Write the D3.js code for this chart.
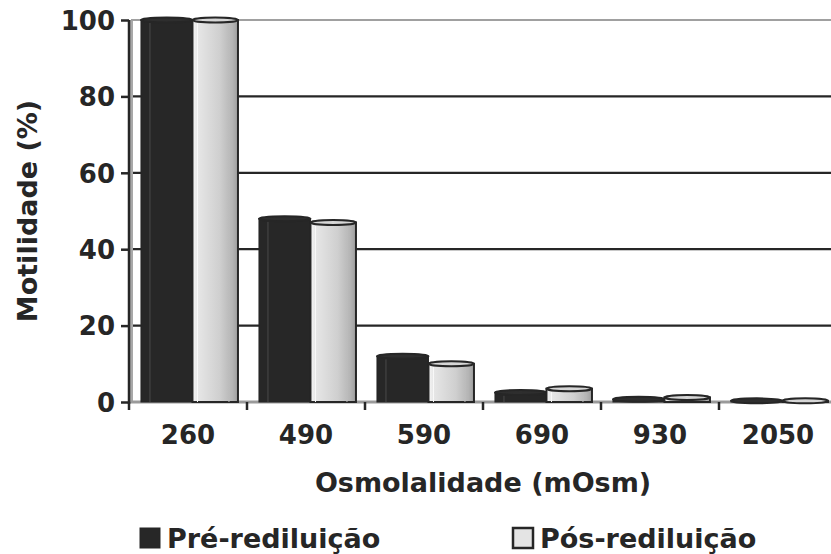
<!DOCTYPE html>
<html>
<head>
<meta charset="utf-8">
<script src="https://cdn.jsdelivr.net/npm/d3@7"></script>
<style>
  body { margin: 0; background: #fff; }
  text { font-family: "DejaVu Sans", Verdana, sans-serif; font-weight: bold; fill: #262626; }
</style>
</head>
<body>
<svg id="chart" width="831" height="554"></svg>
<script>
// Osmolality groups (mOsm) and sperm motility (%) before / after re-dilution
const categories = ["260", "490", "590", "690", "930", "2050"];
const preRediluicao = [100, 48, 12, 2.5, 0.7, 0.3];
const posRediluicao = [100, 47, 10, 3.5, 1.2, 0.3];
const yTicks = [0, 20, 40, 60, 80, 100];
const seriesNames = ["Pré-rediluição", "Pós-rediluição"];

const svg = d3.select("#chart");
const plotLeft = 129, plotTop = 20, plotBottom = 402, step = 118;
const plotRight = plotLeft + step * categories.length;

const x = d3.scaleBand().domain(categories).range([plotLeft, plotRight])
  .paddingInner(0.178).paddingOuter(0.089).align(0.57);
const xs = d3.scaleBand().domain([0, 1]).range([0, x.bandwidth()]);
const y = d3.scaleLinear().domain([0, 100]).range([plotBottom, plotTop]);

// gradient for the light cylinders
const defs = svg.append("defs");
const g1 = defs.append("linearGradient").attr("id", "lightCyl");
[["0%", "#f4f4f4"], ["12%", "#e6e6e6"], ["60%", "#cfcfcf"], ["88%", "#b4b4b4"], ["100%", "#9e9e9e"]]
  .forEach(([o, c]) => g1.append("stop").attr("offset", o).attr("stop-color", c));

// back wall edge and floor
svg.append("rect").attr("x", plotLeft + 1).attr("y", plotTop).attr("width", 3).attr("height", plotBottom - plotTop)
  .attr("fill", "#a8a8a8");
svg.append("line").attr("x1", plotLeft).attr("x2", 831).attr("y1", plotBottom).attr("y2", plotBottom)
  .attr("stroke", "#9a9a9a").attr("stroke-width", 3);

// gridlines
svg.append("g").selectAll("line").data(yTicks.filter(d => d > 0)).join("line")
  .attr("x1", d => d === 100 ? plotLeft + 2 : plotLeft + 4).attr("x2", 831)
  .attr("y1", d => y(d)).attr("y2", d => y(d))
  .attr("stroke", d => d === 100 ? "#a0a0a0" : "#262626")
  .attr("stroke-width", 2.2);

// y axis
const yAxis = d3.axisLeft(y).tickValues(yTicks).tickSize(8).tickPadding(6);
const gy = svg.append("g").attr("transform", `translate(${plotLeft},0)`).call(yAxis);
gy.select(".domain").attr("stroke", "#262626").attr("stroke-width", 2.5)
  .attr("d", `M0,${plotTop}V${plotBottom + 2}`);
gy.selectAll(".tick line").attr("stroke", "#262626").attr("stroke-width", 2.5);
gy.selectAll(".tick text").attr("font-size", 26).attr("dy", "0.36em");

// x axis: boundary ticks below the floor
const boundaries = d3.range(categories.length + 1).map(i => plotLeft + i * step);
svg.append("g").selectAll("line").data(boundaries).join("line")
  .attr("x1", d => d).attr("x2", d => d).attr("y1", plotBottom).attr("y2", plotBottom + 8)
  .attr("stroke", "#262626").attr("stroke-width", 2.5);
svg.append("g").selectAll("text").data(categories).join("text")
  .attr("x", (d, i) => plotLeft + (i + 0.5) * step).attr("y", 444)
  .attr("text-anchor", "middle").attr("font-size", 26).text(d => d);

// cylinders
const ry = 2.5;
function cylinder(g, cx0, w, v, dark) {
  const yt = y(v), h = plotBottom - yt;
  const grp = g.append("g");
  grp.append("rect").attr("x", cx0).attr("y", yt).attr("width", w).attr("height", Math.max(h, 0))
    .attr("fill", dark ? "#272727" : "url(#lightCyl)")
    .attr("stroke", "#262626").attr("stroke-width", dark ? 1 : 2);
  if (dark && h > 6) {
    grp.append("line").attr("x1", cx0 + 9).attr("x2", cx0 + 9).attr("y1", yt + 3).attr("y2", plotBottom)
      .attr("stroke", "#4a4a4a").attr("stroke-width", 1);
  }
  if (!dark && h > 6) {
    [5, w - 9].forEach(dx => grp.append("line").attr("x1", cx0 + dx).attr("x2", cx0 + dx)
      .attr("y1", yt + 3).attr("y2", plotBottom).attr("stroke", dx < 10 ? "#f8f8f8" : "#bdbdbd").attr("stroke-width", 1));
  }
  grp.append("ellipse").attr("cx", cx0 + w / 2).attr("cy", yt).attr("rx", w / 2).attr("ry", ry)
    .attr("fill", dark ? "#2e2e2e" : "#d6d6d6").attr("stroke", "#262626").attr("stroke-width", 2);
}
const bars = svg.append("g");
const bw = xs.bandwidth();
categories.forEach((c, i) => {
  cylinder(bars, x(c) + xs(0), bw + 3, preRediluicao[i], true);
  cylinder(bars, x(c) + xs(1) + 3, bw - 3, posRediluicao[i], false);
});

// axis titles
svg.append("text").attr("x", 483).attr("y", 492).attr("text-anchor", "middle")
  .attr("font-size", 27).text("Osmolalidade (mOsm)");
svg.append("text").attr("transform", "translate(37,211) rotate(-90)").attr("text-anchor", "middle")
  .attr("font-size", 27).text("Motilidade (%)");

// legend
const legend = svg.append("g");
const lx = [140, 513];
seriesNames.forEach((s, i) => {
  legend.append("rect").attr("x", lx[i]).attr("y", 528).attr("width", 20).attr("height", 20)
    .attr("fill", i === 0 ? "#272727" : "#e4e4e4").attr("stroke", "#262626").attr("stroke-width", i === 0 ? 1 : 2.5);
  legend.append("text").attr("x", lx[i] + 27).attr("y", 548).attr("font-size", 27).text(s);
});
</script>
</body>
</html>
